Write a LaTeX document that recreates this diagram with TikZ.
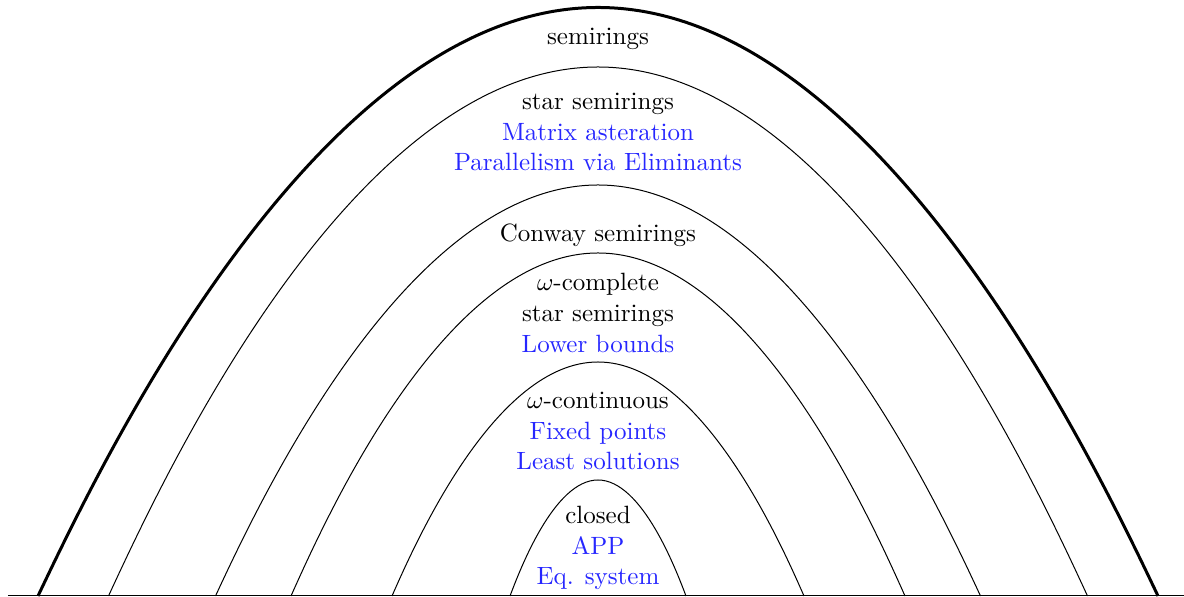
\documentclass[tikz,border=0pt]{standalone}
\begin{document}
\begin{tikzpicture}[x=0.4pt,y=0.4pt,
  arc/.style={draw=black,line width=0.4pt},
  outerarc/.style={draw=black,line width=1.2pt},
  lbl/.style={anchor=base,inner sep=0pt,font=\fontsize{10}{12}\selectfont,text=black},
  blbl/.style={lbl,text=blue!85}]
\useasboundingbox (-598,-1) rectangle (586,596);
% baseline
\coordinate (bl) at (-590,0);
\coordinate (br) at (586,0);
\draw[line width=0.4pt] (bl) -- (br);
% parabolas
\draw[outerarc] (-560,0) parabola bend (0,588.5) (560,0);
\draw[arc] (-489.5,0) parabola bend (0,529) (489.5,0);
\draw[arc] (-382.5,0) parabola bend (0,411) (382.5,0);
\draw[arc] (-307,0) parabola bend (0,343) (307,0);
\draw[arc] (-206,0) parabola bend (0,234) (206,0);
\draw[arc] (-88,0) parabola bend (0,116) (88,0);
% labels
\node[lbl] (t1) at (0,551.5) {semirings};
\node[lbl] (t2) at (0,486) {star semirings};
\node[blbl] (t3) at (0,455.5) {Matrix asteration};
\node[blbl] (t4) at (0,425) {Parallelism via Eliminants};
\node[lbl] (t5) at (0,354) {Conway semirings};
\node[lbl] (t6) at (0,305) {$\omega$-complete};
\node[lbl] (t7) at (0,274.5) {star semirings};
\node[blbl] (t8) at (0,243.5) {Lower bounds};
\node[lbl] (t9) at (0,187) {$\omega$-continuous};
\node[blbl] (t10) at (0,156.5) {Fixed points};
\node[blbl] (t11) at (0,126) {Least solutions};
\node[lbl] (t12) at (0,72) {closed};
\node[blbl] (t13) at (0,41.5) {APP};
\node[blbl] (t14) at (0,11) {Eq. system};
\end{tikzpicture}
\end{document}
